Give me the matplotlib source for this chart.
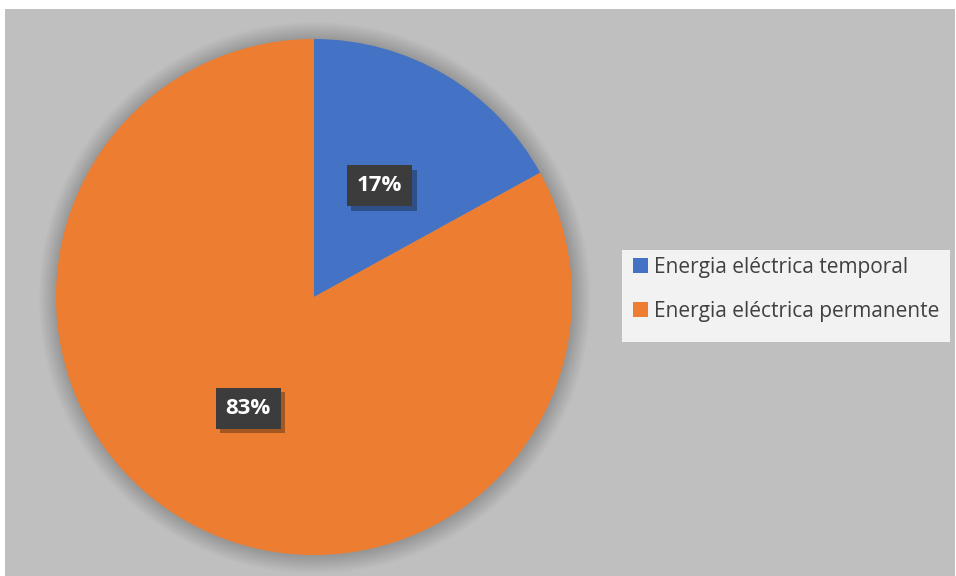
import matplotlib.pyplot as plt
from matplotlib.patches import Rectangle, Circle
from matplotlib import patheffects as pe

# Data
labels = ['Energia eléctrica temporal', 'Energia eléctrica permanente']
shares = [17, 83]
colors = ['#4472c4', '#ed7d31']

W, H = 956, 576
fig = plt.figure(figsize=(W / 100, H / 100), dpi=100)
fig.patch.set_facecolor('white')

# grey chart area
fig.patches.append(Rectangle((5 / W, 0), 950 / W, 567 / H, transform=fig.transFigure,
                             facecolor='#bfbfbf', edgecolor='none', zorder=-10))
# legend background
fig.patches.append(Rectangle((622 / W, 1 - 342 / H), 328 / W, 92 / H,
                             transform=fig.transFigure, facecolor='#f2f2f2',
                             edgecolor='none', zorder=-5))

# pie axes: centre (314, 297), radius 258 px
cx, cy, r = 314, 297, 258
ax = fig.add_axes([(cx - r) / W, (H - cy - r) / H, 2 * r / W, 2 * r / H])
ax.set_facecolor('none')
ax.set_zorder(1)

# soft glow around the pie
for i in range(20):
    ax.add_patch(Circle((0.003, -0.003), 1 + 0.0035 * (i + 1), facecolor='black',
                        edgecolor='none', alpha=0.008, zorder=0, clip_on=False))

wedges, texts, autotexts = ax.pie(shares, colors=colors, startangle=90, counterclock=False,
                                  autopct='%1.0f%%', pctdistance=0.5, radius=1,
                                  wedgeprops=dict(linewidth=0, zorder=2))
for t in autotexts:
    t.set_color('white')
    t.set_fontsize(16)
    t.set_fontweight('bold')
    t.set_family('Open Sans')
    t.set_zorder(5)
    t.set_bbox(dict(boxstyle='square,pad=0.45', facecolor='#3c3c3c', edgecolor='none'))
    t.get_bbox_patch().set_path_effects([
        pe.SimplePatchShadow(offset=(3, -3), shadow_rgbFace='black', alpha=0.3),
        pe.Normal()])
ax.set_xlim(-1, 1)
ax.set_ylim(-1, 1)
ax.set_aspect('equal')
ax.axis('off')

# legend
leg = fig.legend(wedges, labels, loc='upper left',
                 bbox_to_anchor=(633 / W, 1 - 257 / H), bbox_transform=fig.transFigure,
                 frameon=False, handlelength=0.7, handleheight=0.7,
                 handletextpad=0.3, labelspacing=1.1, borderpad=0,
                 borderaxespad=0, prop={'family': 'Open Sans', 'size': 15})
leg.set_zorder(3)
for t in leg.get_texts():
    t.set_color('#404040')

fig.savefig('out.png', dpi=100, facecolor='white')
